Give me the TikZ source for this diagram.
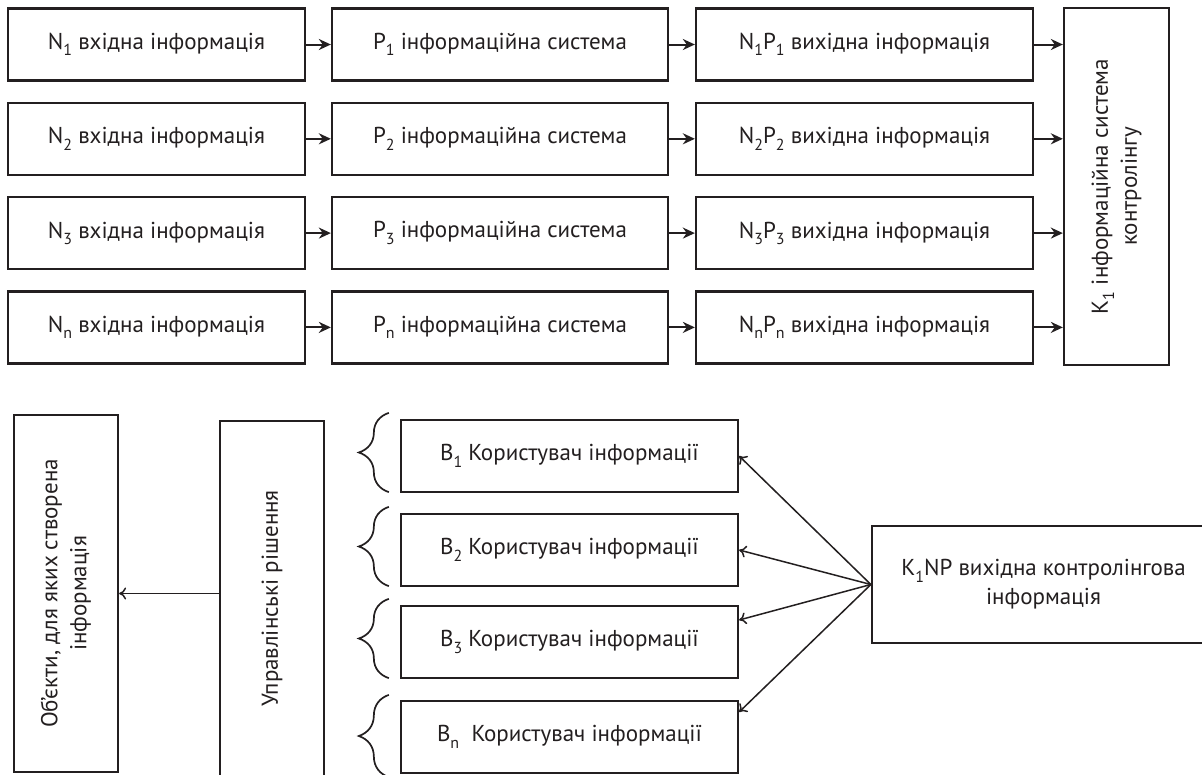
\documentclass[tikz,border=0pt]{standalone}
\usepackage{fontspec}
\setmainfont{PT Sans}
\usepackage{tikz}
\usetikzlibrary{positioning}
\usetikzlibrary{arrows.meta}
\usetikzlibrary{decorations.pathreplacing}
\definecolor{ink}{HTML}{231F20}
\tikzstyle{every node}=[font=\fontsize{23}{29}\selectfont,text=ink]
\tikzstyle{block}=[draw=ink,line width=2.3pt,inner sep=0pt,align=center]
\tikzstyle{rowbox}=[block,minimum height=72pt]
\tikzstyle{flow}=[draw=ink,line width=2pt,-{Stealth[length=12pt,width=11pt]}]
\tikzstyle{feed}=[draw=ink,line width=1.5pt,-{To[length=7pt,width=12pt]}]
\tikzstyle{userbrace}=[draw=ink,line width=1.7pt,decorate,decoration={brace,amplitude=30pt}]
\newcommand{\subidx}[1]{\raisebox{-0.55ex}{\fontsize{16}{16}\selectfont #1}}

\begin{document}
\begin{tikzpicture}[x=1pt,y=-1pt]
  \path[use as bounding box,fill=white] (0,0) rectangle (1202,774);
  % upper part
  \node[rowbox,minimum width=297pt] (N1) at (156.5,44.5) {N\subidx{1} вхідна інформація};
  \node[rowbox,minimum width=336pt,right=24.7pt of N1] (P1) {P\subidx{1} інформаційна система};
  \node[rowbox,minimum width=337pt,right=25.7pt of P1] (NP1) {N\subidx{1}P\subidx{1} вихідна інформація};
  \node[rowbox,minimum width=297pt] (N2) at (156.5,138.8) {N\subidx{2} вхідна інформація};
  \node[rowbox,minimum width=336pt,right=24.7pt of N2] (P2) {P\subidx{2} інформаційна система};
  \node[rowbox,minimum width=337pt,right=25.7pt of P2] (NP2) {N\subidx{2}P\subidx{2} вихідна інформація};
  \node[rowbox,minimum width=297pt] (N3) at (156.5,233.1) {N\subidx{3} вхідна інформація};
  \node[rowbox,minimum width=336pt,right=24.7pt of N3] (P3) {P\subidx{3} інформаційна система};
  \node[rowbox,minimum width=337pt,right=25.7pt of P3] (NP3) {N\subidx{3}P\subidx{3} вихідна інформація};
  \node[rowbox,minimum width=297pt] (Nn) at (156.5,327.4) {N\subidx{n} вхідна інформація};
  \node[rowbox,minimum width=336pt,right=24.7pt of Nn] (Pn) {P\subidx{n} інформаційна система};
  \node[rowbox,minimum width=337pt,right=25.7pt of Pn] (NPn) {N\subidx{n}P\subidx{n} вихідна інформація};
  \node[block,minimum width=105pt,minimum height=357pt] (K1) at (1116.5,186.5)
    {\rotatebox{90}{\begin{tabular}{@{}c@{}}K\subidx{1} інформаційна система\\контролінгу\end{tabular}}};
  \draw[flow] (N1) -- (P1);
  \draw[flow] (P1) -- (NP1);
  \draw[flow] (NP1.east) -- (K1.west |- NP1.east);
  \draw[flow] (N2) -- (P2);
  \draw[flow] (P2) -- (NP2);
  \draw[flow] (NP2.east) -- (K1.west |- NP2.east);
  \draw[flow] (N3) -- (P3);
  \draw[flow] (P3) -- (NP3);
  \draw[flow] (NP3.east) -- (K1.west |- NP3.east);
  \draw[flow] (Nn) -- (Pn);
  \draw[flow] (Pn) -- (NPn);
  \draw[flow] (NPn.east) -- (K1.west |- NPn.east);
  % lower part
  \node[block,minimum width=104pt,minimum height=357pt] (obj) at (66,593.5)
    {\rotatebox{90}{\begin{tabular}{@{}c@{}}Об’єкти, для яких створена\\інформація\end{tabular}}};
  \node[block,minimum width=104pt,minimum height=355pt] (dec) at (272,598.5)
    {\rotatebox{90}{Управлінські рішення}};
  \draw[feed] (dec.west |- obj.east) -- (obj.east);
  \node[block,minimum width=337pt,minimum height=72pt] (B1) at (569.5,456) {B\subidx{1} Користувач інформації};
  \node[block,minimum width=337pt,minimum height=72pt] (B2) at (569.5,550) {B\subidx{2} Користувач інформації};
  \node[block,minimum width=337pt,minimum height=72pt] (B3) at (569.5,642) {B\subidx{3} Користувач інформації};
  \node[block,minimum width=337pt,minimum height=72pt] (Bn) at (569.5,737) {B\subidx{n}\ \ Користувач інформації};
  \draw[userbrace] ([xshift=-11pt,yshift=1pt]B1.south west) -- ([xshift=-11pt,yshift=6pt]B1.north west);
  \draw[userbrace] ([xshift=-11pt,yshift=1pt]B2.south west) -- ([xshift=-11pt,yshift=6pt]B2.north west);
  \draw[userbrace] ([xshift=-11pt,yshift=1pt]B3.south west) -- ([xshift=-11pt,yshift=6pt]B3.north west);
  \draw[userbrace] ([xshift=-11pt,yshift=-3pt]Bn.south west) -- ([xshift=-11pt,yshift=5pt]Bn.north west);
  \node[block,minimum width=343pt,minimum height=117pt] (ctrl) at (1043.5,584.5)
    {K\subidx{1}NP вихідна контролінгова\\інформація};
  \draw[feed] (ctrl.west) -- (B1.east);
  \draw[feed] (ctrl.west) -- (B2.east);
  \draw[feed] (ctrl.west) -- ([yshift=22pt]B3.east);
  \draw[feed] (ctrl.west) -- ([yshift=25pt]Bn.east);
\end{tikzpicture}
\end{document}
